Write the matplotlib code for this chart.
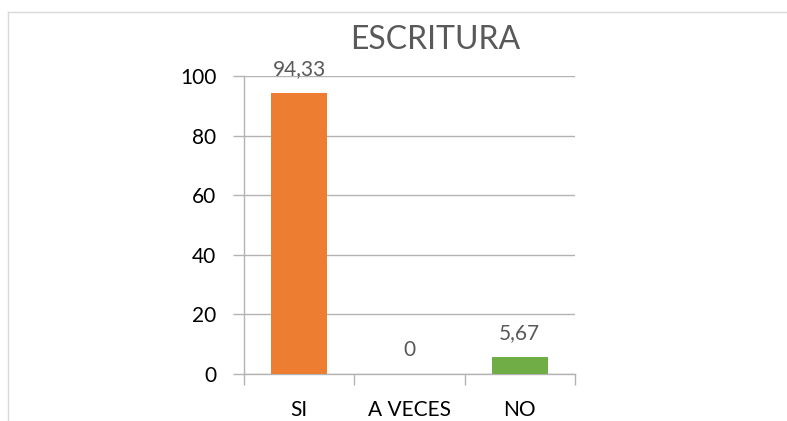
import matplotlib.pyplot as plt
from matplotlib.lines import Line2D

categorias = ["SI", "A VECES", "NO"]
valores = [94.33, 0, 5.67]
etiquetas = ["94,33", "0", "5,67"]
colores = ["#ED7D31", "#A5A5A5", "#70AD47"]

plt.rcParams['font.family'] = ['Lato', 'DejaVu Sans']

fig = plt.figure(figsize=(7.87, 4.21), dpi=100)
ax = fig.add_axes([0.310, 0.1116, 0.4206, 0.7079])

x = range(len(categorias))
bars = ax.bar(x, valores, width=0.505, color=colores, zorder=3)

for b, lab in zip(bars, etiquetas):
    ax.annotate(lab, (b.get_x() + b.get_width() / 2, b.get_height()),
                xytext=(0, 13), textcoords='offset points',
                ha='center', va='baseline', fontsize=15, color='#595959')

grid_c = '#B3B3B3'
ax.set_xlim(-0.5, 2.5)
ax.set_ylim(0, 100)
ax.set_yticks(range(0, 101, 20))
ax.yaxis.grid(True, color=grid_c, linewidth=1, zorder=0)
ax.set_xticks(list(x))
ax.set_xticklabels(categorias)
ax.set_xticks([-0.5, 0.5, 1.5, 2.5], minor=True)
ax.tick_params(axis='x', which='major', length=0, pad=18.5, labelsize=15)
ax.tick_params(axis='x', which='minor', length=8, color=grid_c, width=1)
ax.tick_params(axis='y', length=8, color=grid_c, width=1, pad=12, labelsize=15)

for s in ['right', 'top']:
    ax.spines[s].set_visible(False)
for s in ['left', 'bottom']:
    ax.spines[s].set_color(grid_c)
    ax.spines[s].set_linewidth(1)

fig.text(435 / 787, 1 - 40 / 421, "ESCRITURA", ha='center', va='center',
         fontsize=23, color='#595959')

# borde del área del gráfico
yb = 1 - 12 / 421
xb = 7.5 / 787
fig.add_artist(Line2D([xb, 1], [yb, yb], transform=fig.transFigure, color='#D9D9D9', linewidth=1))
fig.add_artist(Line2D([xb, xb], [0, yb], transform=fig.transFigure, color='#D9D9D9', linewidth=1))

fig.savefig("out.png", dpi=100)
